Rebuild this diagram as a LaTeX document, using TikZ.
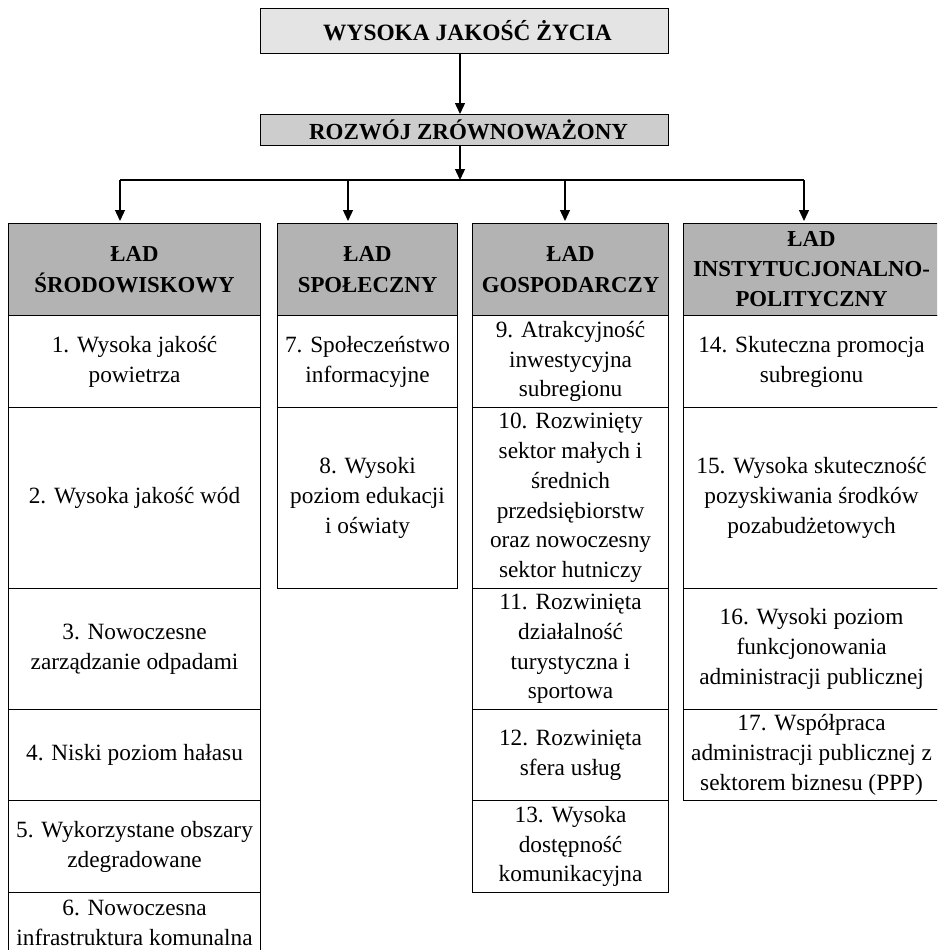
\documentclass[tikz,border=0pt]{standalone}
\usepackage{fontspec}
\setmainfont{Liberation Serif}
\usetikzlibrary{arrows.meta}
\definecolor{fillA}{HTML}{E4E4E4}
\definecolor{fillB}{HTML}{CDCDCD}
\definecolor{fillH}{HTML}{B3B3B3}
\tikzset{
  box/.style={draw=black, line width=1.1pt, rectangle, inner sep=0pt, anchor=north west, align=center},
  cell/.style={box, font=\fontsize{23.3}{29.8}\selectfont},
  hdr/.style={box, fill=fillH, font=\bfseries\fontsize{22.8}{31}\selectfont},
  arr/.style={line width=1.3pt, -{Triangle[length=11pt,width=10pt]}},
  link/.style={line width=1.3pt},
}
\begin{document}
\begin{tikzpicture}[x=1pt,y=-1pt]
\useasboundingbox (0,0) rectangle (937,950);
\clip (0,0) rectangle (937,950);
% top boxes
\node[hdr, fill=fillA, minimum width=408pt, minimum height=45pt, font=\bfseries\fontsize{23.4}{31}\selectfont] (top) at (260,8) {\hspace*{6pt}WYSOKA JAKOŚĆ ŻYCIA};
\node[hdr, fill=fillB, minimum width=408pt, minimum height=31pt, font=\bfseries\fontsize{23.0}{31}\selectfont] (rz) at (260,114) {\hspace*{8pt}ROZWÓJ ZRÓWNOWAŻONY};
% headers
\node[hdr, minimum width=252pt, minimum height=92pt] (h1) at (8,223) {ŁAD\\ŚRODOWISKOWY};
\node[hdr, minimum width=180pt, minimum height=92pt] (h2) at (277,223) {ŁAD\\SPOŁECZNY};
\node[hdr, minimum width=196pt, minimum height=92pt] (h3) at (472,223) {ŁAD\\GOSPODARCZY};
\node[hdr, minimum width=256pt, minimum height=92pt, font=\bfseries\fontsize{22.8}{30}\selectfont] (h4) at (683,223) {ŁAD\\INSTYTUCJONALNO-\\POLITYCZNY};
% column 1
\node[cell, minimum width=252pt, minimum height=92pt] (c1) at (8,315) {1. Wysoka jakość\\powietrza};
\node[cell, minimum width=252pt, minimum height=181pt] (c2) at (8,407) {2. Wysoka jakość wód};
\node[cell, minimum width=252pt, minimum height=121pt] (c3) at (8,588) {3. Nowoczesne\\zarządzanie odpadami};
\node[cell, minimum width=252pt, minimum height=91pt] (c4) at (8,709) {4. Niski poziom hałasu};
\node[cell, minimum width=252pt, minimum height=92pt] (c5) at (8,800) {5. Wykorzystane obszary\\zdegradowane};
\node[cell, minimum width=252pt, minimum height=61pt] (c6) at (8,892) {6. Nowoczesna\\infrastruktura komunalna};
% column 2
\node[cell, minimum width=180pt, minimum height=92pt] (c7) at (277,315) {7. Społeczeństwo\\informacyjne};
\node[cell, minimum width=180pt, minimum height=181pt] (c8) at (277,407) {8. Wysoki\\poziom edukacji\\i oświaty};
% column 3
\node[cell, minimum width=196pt, minimum height=92pt] (c9) at (472,315) {9. Atrakcyjność\\inwestycyjna\\subregionu};
\node[cell, minimum width=196pt, minimum height=181pt] (c10) at (472,407) {10. Rozwinięty\\sektor małych i\\średnich\\przedsiębiorstw\\oraz nowoczesny\\sektor hutniczy};
\node[cell, minimum width=196pt, minimum height=121pt] (c11) at (472,588) {11. Rozwinięta\\działalność\\turystyczna i\\sportowa};
\node[cell, minimum width=196pt, minimum height=91pt] (c12) at (472,709) {12. Rozwinięta\\sfera usług};
\node[cell, minimum width=196pt, minimum height=92pt] (c13) at (472,800) {13. Wysoka\\dostępność\\komunikacyjna};
% column 4
\node[cell, minimum width=256pt, minimum height=92pt] (c14) at (683,315) {14. Skuteczna promocja\\subregionu};
\node[cell, minimum width=256pt, minimum height=181pt] (c15) at (683,407) {15. Wysoka skuteczność\\pozyskiwania środków\\pozabudżetowych};
\node[cell, minimum width=256pt, minimum height=121pt] (c16) at (683,588) {16. Wysoki poziom\\funkcjonowania\\administracji publicznej};
\node[cell, minimum width=256pt, minimum height=91pt] (c17) at (683,709) {17. Współpraca\\administracji publicznej z\\sektorem biznesu (PPP)};
% connectors
\coordinate (j) at (460,180);
\coordinate (a1) at (120,180);
\coordinate (a2) at (348,180);
\coordinate (a3) at (565,180);
\coordinate (a4) at (804,180);
\draw[arr] (top.south -| j) -- (rz.north -| j);
\draw[arr] (rz.south -| j) -- (j);
\draw[link] (a1) -- (a4);
\draw[arr, shorten >=2pt] (a1) -- (a1 |- h1.north);
\draw[arr, shorten >=2pt] (a2) -- (a2 |- h2.north);
\draw[arr, shorten >=2pt] (a3) -- (a3 |- h3.north);
\draw[arr, shorten >=2pt] (a4) -- (a4 |- h4.north);
\end{tikzpicture}
\end{document}
